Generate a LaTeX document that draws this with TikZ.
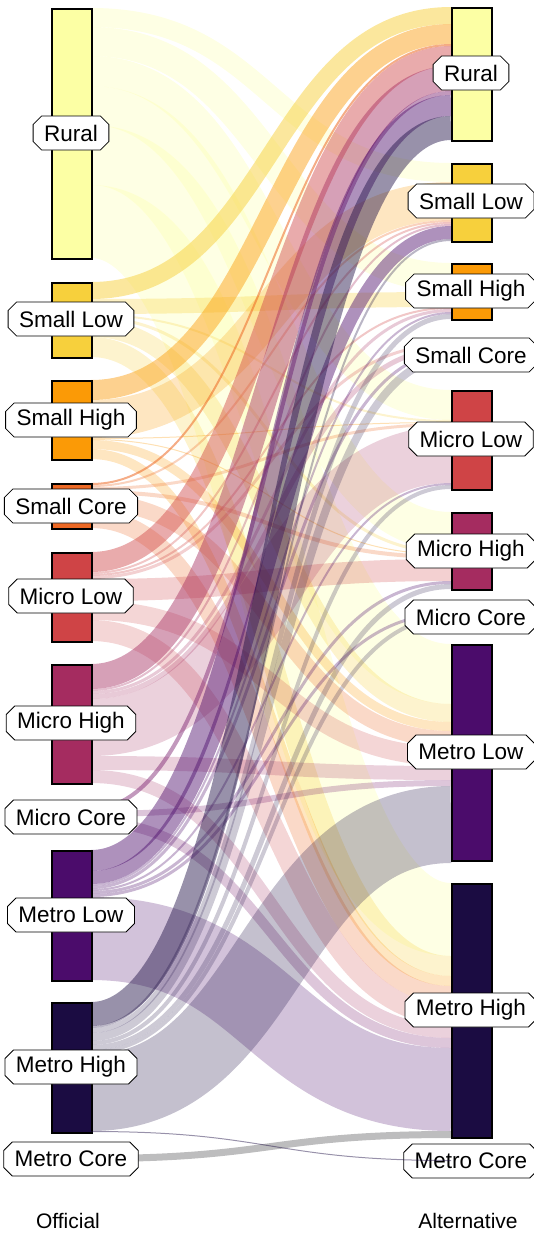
\documentclass[tikz,border=0pt]{standalone}
\usepackage{fontspec}
\setmainfont{Liberation Sans}
\usetikzlibrary{shapes.misc,calc}
\definecolor{c1}{HTML}{FCFFA4}
\definecolor{c2}{HTML}{F7D03C}
\definecolor{c3}{HTML}{FB9A06}
\definecolor{c4}{HTML}{ED6925}
\definecolor{c5}{HTML}{CF4446}
\definecolor{c6}{HTML}{A52C60}
\definecolor{c7}{HTML}{781C6D}
\definecolor{c8}{HTML}{4B0C6B}
\definecolor{c9}{HTML}{1B0C42}
\definecolor{c10}{HTML}{000004}
\tikzset{
  bar/.style={draw=black, line width=2pt, minimum width=40pt, inner sep=0pt, anchor=north west},
  lab/.style={chamfered rectangle, chamfered rectangle xsep=5pt, draw=black, line width=0.8pt,
    fill=white, inner xsep=6pt, inner ysep=0pt, minimum height=34pt,
    font=\fontsize{22.5}{26}\selectfont},
  ttl/.style={font=\fontsize{21}{25}\selectfont},
}
\newcommand\setoff[3]{\expandafter\xdef\csname #1#2\endcsname{#3}}
\newcommand\sk[4]{%
  \pgfmathsetmacro\skya{\csname so#1\endcsname+#3/2}%
  \pgfmathsetmacro\skyb{\csname to#2\endcsname+#3/2}%
  \pgfmathsetmacro\sknewa{\csname so#1\endcsname+#3}%
  \pgfmathsetmacro\sknewb{\csname to#2\endcsname+#3}%
  \setoff{so}{#1}{\sknewa}%
  \setoff{to}{#2}{\sknewb}%
  \coordinate (fa) at (91,\skya);
  \coordinate (fb) at (451,\skyb);
  \draw[line width=#3pt, draw=c#1, draw opacity=#4] (fa) .. controls ($(fa)+(180,0)$) and ($(fb)+(-180,0)$) .. (fb);
}
\begin{document}
\begin{tikzpicture}[x=1pt,y=-1pt]
\useasboundingbox (0,0) rectangle (533,1234);
% source tops
\setoff{so}{1}{8}\setoff{so}{2}{282}\setoff{so}{3}{380}\setoff{so}{4}{483}\setoff{so}{5}{552}
\setoff{so}{6}{664}\setoff{so}{7}{807}\setoff{so}{8}{850}\setoff{so}{9}{1002}\setoff{so}{10}{1155}
% target tops
\setoff{to}{1}{7}\setoff{to}{2}{163}\setoff{to}{3}{263}\setoff{to}{4}{343}\setoff{to}{5}{390}
\setoff{to}{6}{512}\setoff{to}{7}{612}\setoff{to}{8}{644}\setoff{to}{9}{883}\setoff{to}{10}{1160}
% flows
\sk{1}{2}{19}{0.3}\sk{1}{3}{29}{0.3}\sk{1}{5}{30}{0.3}\sk{1}{6}{39}{0.3}\sk{1}{8}{60}{0.3}\sk{1}{9}{73}{0.3}
\sk{2}{1}{17}{0.5}\sk{2}{3}{15}{0.3}\sk{2}{5}{2}{0.25}\sk{2}{6}{3}{0.25}\sk{2}{8}{18}{0.25}\sk{2}{9}{20}{0.25}
\sk{3}{1}{20}{0.45}\sk{3}{2}{38}{0.25}\sk{3}{5}{1}{0.3}\sk{3}{6}{1}{0.3}\sk{3}{8}{9}{0.25}\sk{3}{9}{10}{0.25}
\sk{4}{1}{2}{0.55}\sk{4}{2}{2}{0.3}\sk{4}{5}{3}{0.25}\sk{4}{6}{4}{0.25}\sk{4}{8}{16}{0.25}\sk{4}{9}{18}{0.25}
\sk{5}{1}{20}{0.45}\sk{5}{2}{2}{0.3}\sk{5}{3}{2}{0.3}\sk{5}{4}{3}{0.25}\sk{5}{6}{22}{0.25}\sk{5}{8}{19}{0.22}\sk{5}{9}{21}{0.22}
\sk{6}{1}{25}{0.45}\sk{6}{2}{2}{0.3}\sk{6}{3}{3}{0.25}\sk{6}{4}{5}{0.25}\sk{6}{5}{57}{0.22}\sk{6}{8}{14}{0.22}\sk{6}{9}{13}{0.22}
\sk{7}{1}{4}{0.45}\sk{7}{8}{6}{0.25}\sk{7}{9}{10}{0.25}
\sk{8}{1}{21}{0.45}\sk{8}{2}{13}{0.45}\sk{8}{3}{2}{0.3}\sk{8}{4}{3}{0.3}\sk{8}{5}{2}{0.3}\sk{8}{6}{3}{0.3}\sk{8}{7}{3}{0.3}\sk{8}{9}{83}{0.25}
\sk{9}{1}{24}{0.45}\sk{9}{2}{2}{0.3}\sk{9}{3}{5}{0.22}\sk{9}{4}{8}{0.22}\sk{9}{5}{4}{0.22}\sk{9}{6}{5}{0.22}\sk{9}{7}{4}{0.22}\sk{9}{8}{77}{0.26}
\setoff{so}{9}{1131}
\sk{10}{9}{7}{0.26}
% left bars
\node[bar, fill=c1,  minimum height=250pt] (L1) at (51,8) {};
\node[bar, fill=c2,  minimum height=75pt]  (L2) at (51,282) {};
\node[bar, fill=c3,  minimum height=79pt]  (L3) at (51,380) {};
\node[bar, fill=c4,  minimum height=45pt]  (L4) at (51,483) {};
\node[bar, fill=c5,  minimum height=89pt]  (L5) at (51,552) {};
\node[bar, fill=c6,  minimum height=119pt] (L6) at (51,664) {};
\node[bar, fill=c7,  minimum height=20pt]  (L7) at (51,807) {};
\node[bar, fill=c8,  minimum height=130pt] (L8) at (51,850) {};
\node[bar, fill=c9,  minimum height=130pt] (L9) at (51,1002) {};
\node[bar, fill=c10, minimum height=7pt]   (L10) at (51,1155) {};
% right bars
\node[bar, fill=c1,  minimum height=133pt] (R1) at (451,7) {};
\node[bar, fill=c2,  minimum height=78pt]  (R2) at (451,163) {};
\node[bar, fill=c3,  minimum height=56pt]  (R3) at (451,263) {};
\node[bar, fill=c4,  minimum height=19pt]  (R4) at (451,343) {};
\node[bar, fill=c5,  minimum height=99pt]  (R5) at (451,390) {};
\node[bar, fill=c6,  minimum height=77pt]  (R6) at (451,512) {};
\node[bar, fill=c7,  minimum height=7pt]   (R7) at (451,612) {};
\node[bar, fill=c8,  minimum height=216pt] (R8) at (451,644) {};
\node[bar, fill=c9,  minimum height=254pt] (R9) at (451,883) {};
\node[bar, fill=c10, minimum height=1pt]   (R10) at (451,1160) {};
% left labels
\node[lab] (l1) at (71,133) {Rural};
\node[lab] (l2) at (71,319) {Small Low};
\node[lab] (l3) at (71,420) {Small High};
\node[lab] (l4) at (71,506) {Small Core};
\node[lab] (l5) at (71,596) {Micro Low};
\node[lab] (l6) at (71,723) {Micro High};
\node[lab] (l7) at (71,817) {Micro Core};
\node[lab] (l8) at (71,915) {Metro Low};
\node[lab] (l9) at (71,1067) {Metro High};
\node[lab] (l10) at (71,1159) {Metro Core};
% right labels
\node[lab] (r1) at (471,73) {Rural};
\node[lab] (r2) at (471,201) {Small Low};
\node[lab] (r3) at (471,291) {Small High};
\node[lab] (r4) at (471,355) {Small Core};
\node[lab] (r5) at (471,439) {Micro Low};
\node[lab] (r6) at (471,551) {Micro High};
\node[lab] (r7) at (471,617) {Micro Core};
\node[lab] (r8) at (471,752) {Metro Low};
\node[lab] (r9) at (471,1010) {Metro High};
\node[lab] (r10) at (471,1161) {Metro Core};
% thin flow over the last label
\sk{9}{10}{1}{0.45}
% titles
\node[ttl] (tl) at (68,1221) {Official};
\node[ttl] (tr) at (468,1221) {Alternative};
\end{tikzpicture}
\end{document}
